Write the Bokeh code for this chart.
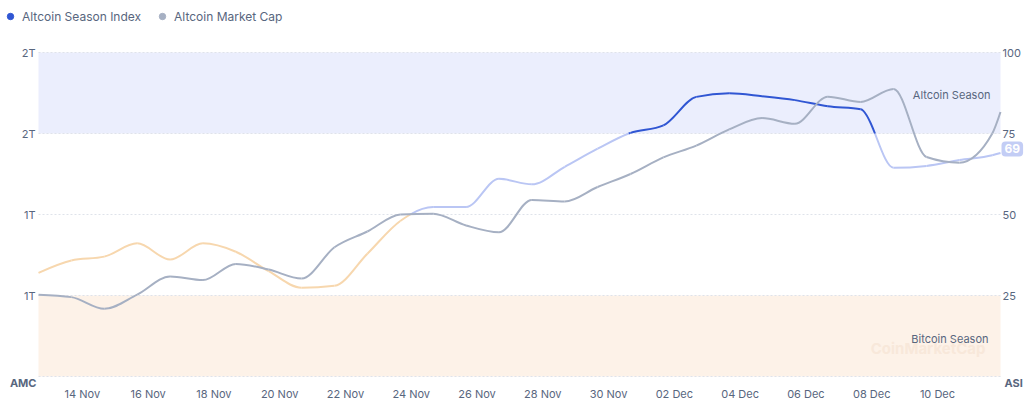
import numpy as np
import pandas as pd
from bokeh.plotting import figure
from bokeh.models import (Range1d, LinearAxis, DatetimeAxis, FixedTicker,
                          DatetimeTickFormatter, CustomJSTickFormatter,
                          BoxAnnotation, Label, Legend, LegendItem, ColumnDataSource)
from bokeh.embed import file_html
from bokeh.resources import INLINE

# ---------------- data ----------------
dates = list(pd.date_range("2024-11-12 16:00", periods=30, freq="D")) + [pd.Timestamp("2024-12-11 22:00")]
season_index = [32.0, 35.8, 37.0, 41.1, 36.1, 41.1, 38.5, 32.5, 27.4, 28.0,
                37.9, 48.0, 52.3, 52.3, 61.0, 59.3, 64.7, 70.3, 75.2, 77.5,
                86.3, 87.4, 86.5, 85.3, 83.4, 82.5, 64.4, 65.0, 66.8, 68.3, 69.0]
altcoin_mcap_t = [1.202, 1.196, 1.167, 1.202, 1.247, 1.238, 1.278, 1.264, 1.242, 1.319,
                  1.358, 1.400, 1.402, 1.373, 1.356, 1.436, 1.432, 1.468, 1.500, 1.541,
                  1.570, 1.610, 1.638, 1.624, 1.691, 1.678, 1.710, 1.542, 1.528, 1.600, 1.653]
tick_dates = list(pd.date_range("2024-11-14", "2024-12-10", freq="2D"))
mcap_ticks = [1.0, 1.2, 1.4, 1.6, 1.8]
index_ticks = [0, 25, 50, 75, 100]
zone_bounds = [0, 25, 50, 75, 100]
zone_colors = ["#f58a2c", "#f7d7ae", "#bac6f4", "#3056d3"]

BLUE = "#3056d3"
GREY = "#a6b0c3"
TXT = "#58667e"
FONT = "Inter"

xs = (pd.DatetimeIndex(dates).asi8 // 10**6).astype(float)
tick_ms = [float(v) for v in (pd.DatetimeIndex(tick_dates).asi8 // 10**6)]


# ---------------- smooth curve helpers (monotone cubic -> bezier) ----------------
def monotone_slopes(x, y):
    x = np.asarray(x, float); y = np.asarray(y, float)
    n = len(x)
    h = np.diff(x); s = np.diff(y) / h
    m = np.zeros(n)
    for i in range(1, n - 1):
        p = (s[i - 1] * h[i] + s[i] * h[i - 1]) / (h[i - 1] + h[i])
        m[i] = (np.sign(s[i - 1]) + np.sign(s[i])) * min(abs(s[i - 1]), abs(s[i]), 0.5 * abs(p))
    m[0] = (3 * s[0] - m[1]) / 2
    m[-1] = (3 * s[-1] - m[-2]) / 2
    return m


def bezier_segments(x, y):
    m = monotone_slopes(x, y)
    segs = []
    for i in range(len(x) - 1):
        h = x[i + 1] - x[i]
        segs.append((np.array([x[i], y[i]]),
                     np.array([x[i] + h / 3, y[i] + m[i] * h / 3]),
                     np.array([x[i + 1] - h / 3, y[i + 1] - m[i + 1] * h / 3]),
                     np.array([x[i + 1], y[i + 1]])))
    return segs


def split(seg, t):
    p0, p1, p2, p3 = seg
    a = p0 + (p1 - p0) * t; b = p1 + (p2 - p1) * t; c = p2 + (p3 - p2) * t
    d = a + (b - a) * t; e = b + (c - b) * t; f = d + (e - d) * t
    return (p0, a, d, f), (f, e, c, p3)


def sub(seg, ta, tb):
    left, _ = split(seg, tb)
    _, right = split(left, ta / tb)
    return right


def ybez(seg, t):
    y0, y1, y2, y3 = [p[1] for p in seg]
    u = 1 - t
    return u ** 3 * y0 + 3 * u * u * t * y1 + 3 * u * t * t * y2 + t ** 3 * y3


def crossings(seg, thr):
    ts = np.linspace(0, 1, 65)
    v = [ybez(seg, t) - thr for t in ts]
    roots = []
    for j in range(64):
        if v[j] * v[j + 1] < 0:
            lo, hi = ts[j], ts[j + 1]
            for _ in range(50):
                mid = (lo + hi) / 2
                if (ybez(seg, lo) - thr) * (ybez(seg, mid) - thr) <= 0:
                    hi = mid
                else:
                    lo = mid
            roots.append((lo + hi) / 2)
    return roots


def to_cols(pieces):
    return dict(x0=[s[0][0] for s in pieces], y0=[s[0][1] for s in pieces],
                cx0=[s[1][0] for s in pieces], cy0=[s[1][1] for s in pieces],
                cx1=[s[2][0] for s in pieces], cy1=[s[2][1] for s in pieces],
                x1=[s[3][0] for s in pieces], y1=[s[3][1] for s in pieces])


# ---------------- layout: plot area inside a full-canvas frame ----------------
W, H = 1033, 410
PL, PR, PT, PB = 38, 1000, 52, 376          # plot-area edges in canvas pixels


def padded(lo, hi, pix_lo, pix_hi, before, after):
    k = (hi - lo) / (pix_hi - pix_lo)
    return lo - before * k, hi + after * k


x0r, x1r = padded(xs[0], xs[-1], PL, PR, PL, W - PR)
m0r, m1r = padded(mcap_ticks[0], mcap_ticks[-1], PT, PB, H - PB, PT)
i0r, i1r = padded(index_ticks[0], index_ticks[-1], PT, PB, H - PB, PT)

p = figure(width=W, height=H, x_range=Range1d(x0r, x1r), y_range=Range1d(m0r, m1r),
           x_axis_location=None, y_axis_location=None,
           output_backend="svg", toolbar_location=None,
           min_border=0, min_border_left=0, min_border_right=0, min_border_top=0,
           min_border_bottom=0, background_fill_color="white", border_fill_color="white")
p.title.visible = False
p.extra_y_ranges = {"idx": Range1d(i0r, i1r)}
p.outline_line_color = None
for g in p.grid:
    g.visible = False

# zones
p.add_layout(BoxAnnotation(left=xs[0], right=xs[-1], bottom=zone_bounds[3], top=zone_bounds[4],
                           y_range_name="idx", fill_color="#ebeefd", fill_alpha=1,
                           line_color=None, level="image"))
p.add_layout(BoxAnnotation(left=xs[0], right=xs[-1], bottom=zone_bounds[0], top=zone_bounds[1],
                           y_range_name="idx", fill_color="#fdf2e8", fill_alpha=1,
                           line_color=None, level="image"))

# dotted horizontal grid lines at the axis ticks, spanning the plot area
p.segment(x0=[xs[0]] * len(mcap_ticks), x1=[xs[-1]] * len(mcap_ticks),
          y0=mcap_ticks, y1=mcap_ticks, line_color="#dfe3ea", line_dash="2 2",
          line_width=1, level="underlay")

# axes at fixed locations (edges of the plot area)
xa = DatetimeAxis(fixed_location=mcap_ticks[0], ticker=FixedTicker(ticks=tick_ms),
                  formatter=DatetimeTickFormatter(days="%d %b", months="%d %b", hours="%d %b",
                                                  hourmin="%d %b", years="%d %b"))
left = LinearAxis(fixed_location=xs[0], ticker=FixedTicker(ticks=mcap_ticks[1:]),
                  formatter=CustomJSTickFormatter(code="return Math.round(tick) + 'T';"))
right = LinearAxis(fixed_location=xs[-1], y_range_name="idx",
                   ticker=FixedTicker(ticks=index_ticks[1:]))
p.add_layout(xa, "below")
p.add_layout(left, "left")
p.add_layout(right, "right")
for ax in (xa, left, right):
    ax.axis_line_color = None
    ax.major_tick_line_color = None
    ax.minor_tick_line_color = None
    ax.major_tick_out = 0
    ax.major_tick_in = 0
    ax.minor_tick_out = 0
    ax.minor_tick_in = 0
    ax.major_label_text_font = FONT
    ax.major_label_text_font_size = "11px"
    ax.major_label_text_color = TXT
for ax in (left, right):
    ax.major_label_text_baseline = "top"
xa.major_label_standoff = 10
left.major_label_standoff = 3
right.major_label_standoff = 2

# index line coloured by zone
groups = {c: [] for c in zone_colors}
for seg in bezier_segments(xs, season_index):
    cuts = [0.0]
    for thr in zone_bounds[1:-1]:
        cuts += crossings(seg, thr)
    cuts = sorted(cuts) + [1.0]
    for ta, tb in zip(cuts[:-1], cuts[1:]):
        if tb - ta < 1e-9:
            continue
        piece = seg if (ta == 0 and tb == 1) else sub(seg, ta, tb)
        ym = ybez(seg, (ta + tb) / 2)
        zi = min(max(np.searchsorted(zone_bounds, ym) - 1, 0), 3)
        groups[zone_colors[zi]].append(piece)
for c, pieces in groups.items():
    if pieces:
        p.bezier(x0="x0", y0="y0", x1="x1", y1="y1", cx0="cx0", cy0="cy0", cx1="cx1", cy1="cy1",
                 source=ColumnDataSource(to_cols(pieces)), line_color=c, line_width=2,
                 y_range_name="idx")

# market cap line
p.bezier(x0="x0", y0="y0", x1="x1", y1="y1", cx0="cx0", cy0="cy0", cx1="cx1", cy1="cy1",
         source=ColumnDataSource(to_cols(bezier_segments(xs, altcoin_mcap_t))),
         line_color=GREY, line_width=2)

# zone labels and watermark
p.add_layout(Label(x=xs[-1], y=87, y_range_name="idx", x_offset=-10, text="Altcoin Season",
                   text_align="right", text_baseline="middle", text_font=FONT,
                   text_font_size="11px", text_color=TXT))
p.add_layout(Label(x=xs[-1], y=11.7, y_range_name="idx", x_offset=-12, text="Bitcoin Season",
                   text_align="right", text_baseline="middle", text_font=FONT,
                   text_font_size="11px", text_color=TXT))
p.add_layout(Label(x=xs[-1], y=8.6, y_range_name="idx", x_offset=-15, text="CoinMarketCap",
                   text_align="right", text_baseline="middle", text_font=FONT,
                   text_font_size="15px", text_font_style="bold", text_color="#f8e8da"))

# axis origin names
p.add_layout(Label(x=xs[0], y=mcap_ticks[0], x_offset=-2, y_offset=-6, text="AMC",
                   text_align="right", text_baseline="middle", text_font=FONT,
                   text_font_size="11px", text_font_style="bold", text_color=TXT))
p.add_layout(Label(x=xs[-1], y=index_ticks[0], y_range_name="idx", x_offset=4, y_offset=-6,
                   text="ASI", text_align="left", text_baseline="middle", text_font=FONT,
                   text_font_size="11px", text_font_style="bold", text_color=TXT))

# current value badge
p.add_layout(Label(x=xs[-1], y=season_index[-1], y_range_name="idx", x_offset=1, y_offset=4,
                   text=str(int(round(season_index[-1]))), text_align="left",
                   text_baseline="middle", text_font=FONT, text_font_size="12px",
                   text_font_style="bold", text_color="white",
                   background_fill_color="#c3cdf5", background_fill_alpha=1,
                   padding=3, border_radius=4))

# legend (point markers drawn at zero size; the legend draws its own dot)
r1 = p.scatter(x=xs, y=season_index, y_range_name="idx", color=BLUE, size=0)
r2 = p.scatter(x=xs, y=altcoin_mcap_t, color=GREY, size=0)
legend = Legend(items=[LegendItem(label="Altcoin Season Index", renderers=[r1], index=0),
                       LegendItem(label="Altcoin Market Cap", renderers=[r2], index=0)],
                orientation="horizontal", location=(2, H - 24),
                glyph_width=16, glyph_height=16, label_height=16, label_standoff=4,
                spacing=13, padding=0, margin=0, border_line_color=None,
                background_fill_alpha=0, label_text_font=FONT,
                label_text_font_size="12px", label_text_color=TXT)
p.add_layout(legend)

open("out.html", "w").write(file_html(p, INLINE))
